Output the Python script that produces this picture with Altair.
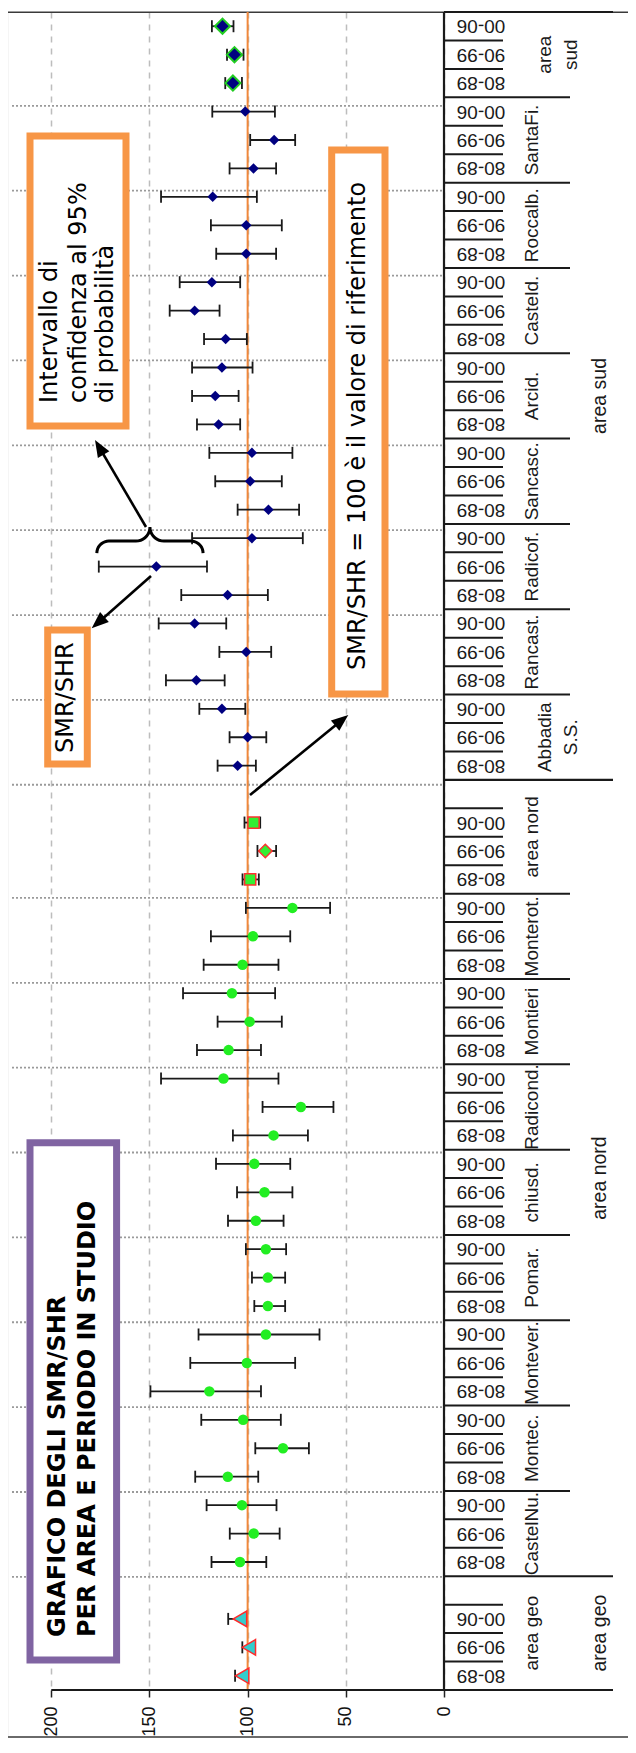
import math
import altair as alt
import pandas as pd

# ---------------- data ----------------
periods = ["80-89", "90-99", "00-06"]

group_names = ["area geo", "CastelNu.", "Montec.", "Montever.", "Pomar.",
               "chiusd.", "Radicond.", "Montieri", "Monterot.", "area nord",
               "Abbadia\nS.S.", "Rancast.", "Radicof.", "Sancasc.", "Arcid.",
               "Casteld.", "Roccalb.", "SantaFi.", "area\nsud"]
group_slots = [4, 3, 3, 3, 3, 3, 3, 3, 3, 4, 3, 3, 3, 3, 3, 3, 3, 3, 3]
group_series = ["geo"] + ["nord"] * 8 + ["nord_tot"] + ["sud"] * 8 + ["sud_tot"]

zone_names = ["area geo", "area nord", "area sud"]
zone_first_group = [0, 1, 10]

smr = [
    [102.8, 99.4, 103.9],
    [103.9, 96.9, 102.9],
    [110.1, 82.0, 102.3],
    [119.5, 100.4, 90.7],
    [89.7, 89.7, 90.7],
    [95.8, 91.4, 96.6],
    [86.8, 72.9, 112.3],
    [109.7, 99.0, 108.0],
    [102.6, 97.3, 77.2],
    [98.7, 91.0, 97.0],
    [105.1, 100.0, 113.1],
    [126.1, 100.7, 127.0],
    [110.2, 146.5, 97.8],
    [89.4, 98.7, 97.8],
    [114.8, 116.5, 113.1],
    [111.2, 127.0, 118.2],
    [100.7, 100.7, 117.8],
    [97.0, 86.5, 101.2],
    [107.5, 106.7, 112.8],
]
ci_lo = [
    [99.9, 97.1, 101.7],
    [90.5, 83.7, 85.3],
    [94.6, 68.8, 83.1],
    [93.2, 75.8, 63.4],
    [80.9, 80.9, 80.4],
    [81.7, 77.2, 78.3],
    [69.3, 56.3, 84.3],
    [93.2, 82.6, 86.0],
    [84.3, 78.3, 58.0],
    [94.3, 85.5, 93.6],
    [95.8, 90.5, 101.2],
    [111.7, 88.0, 110.9],
    [89.7, 120.7, 71.9],
    [73.8, 82.6, 77.2],
    [103.8, 104.6, 97.5],
    [100.4, 114.3, 103.8],
    [85.5, 82.6, 95.3],
    [85.5, 75.8, 86.1],
    [102.9, 102.1, 107.2],
]
ci_hi = [
    [106.4, 102.7, 109.9],
    [118.4, 109.1, 120.9],
    [126.7, 96.1, 123.6],
    [149.5, 129.2, 125.0],
    [96.6, 97.8, 100.9],
    [110.0, 105.4, 116.1],
    [107.5, 92.4, 144.1],
    [125.8, 115.3, 132.9],
    [122.4, 118.7, 100.9],
    [102.6, 95.0, 101.6],
    [115.3, 109.2, 124.6],
    [141.6, 114.4, 145.3],
    [133.8, 175.8, 128.3],
    [105.1, 116.5, 119.5],
    [125.8, 128.3, 128.3],
    [122.2, 139.7, 134.6],
    [116.0, 118.7, 144.1],
    [109.2, 98.7, 118.0],
    [111.4, 110.5, 118.2],
]
nord_tot_shapes = ["square", "diamond", "square"]
value_ticks = [0, 50, 100, 150, 200]
reference_value = 100

# ---------------- layout ----------------
W, H = 432, 1678
X_MAX = 220
starts = []
s = 0
for n in group_slots:
    starts.append(s)
    s += n
N_SLOTS = s  # 59

rows, caps = [], []
for g in range(len(group_names)):
    for j in range(3):
        yc = starts[g] + j + 0.5
        shp = nord_tot_shapes[j] if group_series[g] == "nord_tot" else ""
        rows.append(dict(y=yc, smr=smr[g][j], lo=ci_lo[g][j], hi=ci_hi[g][j],
                         series=group_series[g], period=periods[j], shape=shp,
                         msize=180 if shp == "diamond" else 125))
        caps.append(dict(y=yc, x=ci_lo[g][j]))
        caps.append(dict(y=yc, x=ci_hi[g][j]))
df = pd.DataFrame(rows)
caps_df = pd.DataFrame(caps)

zone_starts = [starts[g] for g in zone_first_group]
tick_b = [starts[g] + k for g in range(len(group_names)) for k in range(1, group_slots[g])]
group_b = [starts[g] for g in range(1, len(group_names)) if starts[g] not in zone_starts]
zone_b = [b for b in zone_starts if b > 0] + [N_SLOTS]
grid_b = [starts[g] - 0.3 * starts[g] / 56 for g in range(1, len(group_names))]

glab = pd.DataFrame([dict(y=starts[g] + group_slots[g] / 2, label=group_names[g],
                          two="\n" in group_names[g]) for g in range(len(group_names))])
zone_ends = zone_starts[1:] + [N_SLOTS]
zlab = pd.DataFrame([dict(y=(a + b) / 2, label=z) for a, b, z in zip(zone_starts, zone_ends, zone_names)])

one = pd.DataFrame({"k": [0]})

xscale = alt.Scale(domain=[0, X_MAX], reverse=True, nice=False, zero=False)
yscale = alt.Scale(domain=[0, N_SLOTS], nice=False, zero=False)
xaxis = alt.Axis(values=value_ticks, orient="bottom", domain=False, ticks=True, tickSize=7,
                 tickWidth=1.5, tickColor="#222222", labelAngle=270, labelFont="Liberation Sans",
                 labelFontSize=18, labelColor="#111111", labelPadding=9, labelFlush=False,
                 labelOverlap=False, grid=True, gridColor="#bdbdbd", gridDash=[6, 6],
                 gridWidth=1.5, title=None)


def X(f):
    return alt.X(f, type="quantitative", scale=xscale, axis=xaxis)


def Y(f):
    return alt.Y(f, type="quantitative", scale=yscale, axis=None)


LINE = "#1a1a1a"
layers = []

# outer frame
layers.append(alt.Chart(one).mark_rect(fillOpacity=0, stroke="#3a3a3a", strokeWidth=1.5).encode(
    x=alt.value(-4.7), x2=alt.value(640), y=alt.value(0.3), y2=alt.value(1725)))

# horizontal dotted gridlines at group boundaries
layers.append(alt.Chart(pd.DataFrame({"b": grid_b})).mark_rule(
    color="#9a9a9a", strokeWidth=1.8, strokeDash=[2, 2]).encode(
    y=Y("b"), x=alt.value(0), x2=alt.value(W - 1)))

# reference line at 100
layers.append(alt.Chart(pd.DataFrame({"v": [reference_value]})).mark_rule(
    color="#F0883C", strokeWidth=2).encode(x=X("v"), y=alt.value(0), y2=alt.value(H)))

# error bars + caps
layers.append(alt.Chart(df).mark_rule(color=LINE, strokeWidth=1.8).encode(
    x=X("lo"), x2="hi", y=Y("y")))
layers.append(alt.Chart(caps_df).mark_tick(orient="vertical", size=12, thickness=1.8,
                                           color=LINE, opacity=1).encode(x=X("x"), y=Y("y")))

# markers
layers.append(alt.Chart(df[df.series == "geo"]).mark_point(
    shape="triangle-left", filled=True, fill="#33CCCC", stroke="#FF2A2A", strokeWidth=1.5,
    size=240, opacity=1).encode(x=X("smr"), y=Y("y")))
layers.append(alt.Chart(df[df.series == "nord"]).mark_point(
    shape="circle", filled=True, fill="#22EE22", size=110, opacity=1, strokeWidth=0).encode(
    x=X("smr"), y=Y("y")))
layers.append(alt.Chart(df[df.series == "nord_tot"]).mark_point(
    filled=True, fill="#33EE33", stroke="#FF3030", strokeWidth=1.5, opacity=1).encode(
    x=X("smr"), y=Y("y"), shape=alt.Shape("shape:N", scale=None),
    size=alt.Size("msize:Q", scale=None)))
layers.append(alt.Chart(df[df.series == "sud"]).mark_point(
    shape="diamond", filled=True, fill="#000080", size=110, opacity=1, strokeWidth=0).encode(
    x=X("smr"), y=Y("y")))
layers.append(alt.Chart(df[df.series == "sud_tot"]).mark_point(
    shape="diamond", filled=True, fill="#000080", stroke="#22CC22", strokeWidth=2,
    size=230, opacity=1).encode(x=X("smr"), y=Y("y")))

# category table
layers.append(alt.Chart(one).mark_rule(color=LINE, strokeWidth=2.2).encode(
    x=alt.value(W), y=alt.value(0), y2=alt.value(H)))
layers.append(alt.Chart(pd.DataFrame({"v": [value_ticks[-1]]})).mark_rule(
    color=LINE, strokeWidth=2).encode(x=X("v"), x2=alt.value(601), y=alt.value(H)))
layers.append(alt.Chart(pd.DataFrame({"b": tick_b})).mark_rule(color=LINE, strokeWidth=2).encode(
    y=Y("b"), x=alt.value(W), x2=alt.value(491)))
layers.append(alt.Chart(pd.DataFrame({"b": group_b})).mark_rule(color=LINE, strokeWidth=2).encode(
    y=Y("b"), x=alt.value(W), x2=alt.value(558)))
layers.append(alt.Chart(pd.DataFrame({"b": zone_b})).mark_rule(color=LINE, strokeWidth=2.2).encode(
    y=Y("b"), x=alt.value(W), x2=alt.value(601)))

layers.append(alt.Chart(df).mark_text(angle=180, font="Liberation Sans", fontSize=19,
                                      color="#1a1a1a", align="center", baseline="middle").encode(
    x=alt.value(469), y=Y("y"), text="period:N"))
layers.append(alt.Chart(glab[~glab.two]).mark_text(angle=270, font="Liberation Sans", fontSize=19,
                                                  color="#1a1a1a", align="center",
                                                  baseline="middle").encode(
    x=alt.value(520), y=Y("y"), text="label:N"))
layers.append(alt.Chart(glab[glab.two]).mark_text(angle=270, font="Liberation Sans", fontSize=19,
                                                 color="#1a1a1a", align="center",
                                                 baseline="middle", lineBreak="\n",
                                                 lineHeight=26).encode(
    x=alt.value(533), y=Y("y"), text="label:N"))
layers.append(alt.Chart(zlab).mark_text(angle=270, font="Liberation Sans", fontSize=19.5,
                                        color="#1a1a1a", align="center", baseline="middle").encode(
    x=alt.value(588), y=Y("y"), text="label:N"))


# ---------------- annotations ----------------
def box(x1, y1, x2, y2, color):
    return alt.Chart(one).mark_rect(fill="white", stroke=color, strokeWidth=7).encode(
        x=alt.value(x1), x2=alt.value(x2), y=alt.value(y1), y2=alt.value(y2))


def note(txt, x, y, bold=False):
    return alt.Chart(one).mark_text(text=txt, angle=270, align="left", baseline="middle",
                                    font="DejaVu Sans", fontSize=24,
                                    fontWeight="bold" if bold else "normal",
                                    color="black").encode(x=alt.value(x), y=alt.value(y))


def arrow(x0, y0, x1, y1, head=17):
    dx, dy = x1 - x0, y1 - y0
    L = math.hypot(dx, dy)
    ux, uy = dx / L, dy / L
    cx, cy = x1 - ux * head / 2, y1 - uy * head / 2
    ang = math.degrees(math.atan2(dx, -dy)) % 360
    line = alt.Chart(one).mark_rule(color="black", strokeWidth=2.6).encode(
        x=alt.value(x0), y=alt.value(y0), x2=alt.value(cx), y2=alt.value(cy))
    tip = alt.Chart(one).mark_point(shape="M0,-1L0.78,1L-0.78,1Z", filled=True, fill="black",
                                    size=head * head, angle=ang, opacity=1,
                                    strokeWidth=0).encode(x=alt.value(cx), y=alt.value(cy))
    return [line, tip]


ORANGE = "#F79646"
PURPLE = "#8064A2"

layers.append(box(18, 124, 114, 414, ORANGE))
layers.append(note("Intervallo di", 38, 391))
layers.append(note("confidenza al 95%", 66.5, 391))
layers.append(note("di probabilità", 93.5, 391))

layers.append(box(319.7, 138, 373, 682, ORANGE))
layers.append(note("SMR/SHR = 100 è il valore di riferimento", 346, 658))

layers.append(box(35.7, 618, 75.3, 752, ORANGE))
layers.append(note("SMR/SHR", 53.5, 741))

layers.append(box(18, 1130.7, 104.6, 1648, PURPLE))
layers.append(note("GRAFICO DEGLI SMR/SHR", 45.5, 1625, bold=True))
layers.append(note("PER AREA E PERIODO IN STUDIO", 75.5, 1625, bold=True))

# brace over the widest interval (Radicof. 90-99)
g_b, j_b = group_names.index("Radicof."), 1
yc_b = starts[g_b] + j_b + 0.5
v_left, v_right = ci_hi[g_b][j_b] + 1, ci_lo[g_b][j_b] + 2
kx, ky = W / X_MAX, H / N_SLOTS
Wb = (v_left - v_right) * kx
a, R1, R2 = 13.5, 12.0, 14.0
half = []
for t in range(0, 91, 10):
    r = math.radians(t)
    half.append((R1 - R1 * math.cos(r), a + R1 * math.sin(r)))
for t in range(0, 91, 10):
    r = math.radians(t)
    half.append((Wb / 2 - R2 + R2 * math.sin(r), a + R1 + R2 - R2 * math.cos(r)))
path = half + [(Wb - px, py) for px, py in reversed(half)]
brace_df = pd.DataFrame([dict(i=i, v=v_left - px / kx, s=yc_b + py / ky)
                         for i, (px, py) in enumerate(path)])
layers.append(alt.Chart(brace_df).mark_line(color="black", strokeWidth=3).encode(
    x=X("v"), y=Y("s"), order="i:Q"))

layers += arrow(134, 515, 83, 428)
layers += arrow(139, 564, 79.7, 616.3)
layers += arrow(238, 783, 336.3, 703)

chart = alt.layer(*layers).properties(
    width=W, height=H,
    padding={"left": 4, "top": 4, "right": 184, "bottom": 48},
    autosize=alt.AutoSizeParams(type="none"),
    background="white",
).configure_view(stroke=None)

chart.save("out.html", embed_options={"renderer": "svg", "actions": False})
